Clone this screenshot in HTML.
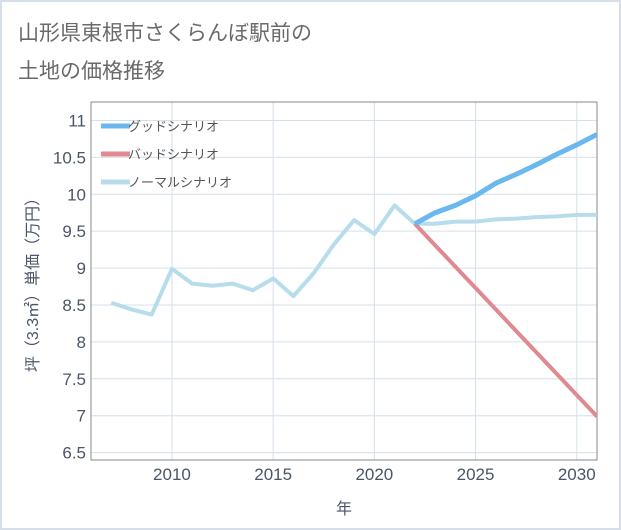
<!DOCTYPE html>
<html><head><meta charset="utf-8"><style>
body{margin:0;background:#fff;}
#wrap{position:relative;width:621px;height:530px;overflow:hidden;}
svg text{font-family:"Liberation Sans","Noto Sans CJK JP",sans-serif;}
</style></head><body>
<div id="wrap">
<svg id="chart" width="621" height="530">
<rect x="1" y="1" width="619" height="528" fill="#fff" stroke="#d6dfe8" stroke-width="2"/>
<text x="18" y="40" font-size="21" fill="#6a6a6a">山形県東根市さくらんぼ駅前の</text>
<text x="18" y="78" font-size="21" fill="#6a6a6a">土地の価格推移</text>
<g id="grid"></g>
<g id="axes"></g>
<g id="series"></g>
<g id="legend"></g>
</svg>
</div>
<script>
const years=[2007,2008,2009,2010,2011,2012,2013,2014,2015,2016,2017,2018,2019,2020,2021,2022,2023,2024,2025,2026,2027,2028,2029,2030,2031];
const normalValues=[8.53,8.44,8.37,8.99,8.79,8.76,8.79,8.70,8.86,8.62,8.93,9.32,9.65,9.46,9.85,9.60,9.60,9.63,9.63,9.66,9.67,9.69,9.70,9.72,9.72];
const goodYears=[2022,2023,2024,2025,2026,2027,2028,2029,2030,2031];
const goodValues=[9.60,9.75,9.85,9.98,10.15,10.27,10.40,10.54,10.67,10.81];
const badYears=[2022,2023,2024,2025,2026,2027,2028,2029,2030,2031];
const badValues=[9.60,9.31,9.02,8.73,8.44,8.15,7.86,7.57,7.28,6.99];
const yTicks=[6.5,7,7.5,8,8.5,9,9.5,10,10.5,11];
const xTicks=[2010,2015,2020,2025,2030];
const seriesNames=["グッドシナリオ","バッドシナリオ","ノーマルシナリオ"];
const seriesColors=["#6bb8ee","#de8a90","#b7dcec"];

const L=91,R=597,T=102,B=460;
const X0=2006,X1=2031,Y0=6.4,Y1=11.25;
const x=v=>L+(v-X0)/(X1-X0)*(R-L);
const y=v=>B-(v-Y0)/(Y1-Y0)*(B-T);
const NS="http://www.w3.org/2000/svg";
function mk(tag,attrs,parent){const e=document.createElementNS(NS,tag);for(const k in attrs)e.setAttribute(k,attrs[k]);parent.appendChild(e);return e;}
const grid=document.getElementById('grid'),axes=document.getElementById('axes'),ser=document.getElementById('series'),leg=document.getElementById('legend');
const TC="#4a5668";
for(const t of yTicks){
  const l=mk('line',{x1:L,x2:R,y1:y(t),y2:y(t),stroke:"#d5e0ea","stroke-width":1},grid);
  
  
  const tx=mk('text',{x:L-5,y:y(t)+6,"text-anchor":"end","font-size":17,fill:TC},axes);
  tx.textContent=t;
  
  
}
for(const t of xTicks){
  const l=mk('line',{x1:x(t),x2:x(t),y1:T,y2:B,stroke:"#d5e0ea","stroke-width":1},grid);
  
  
  const tx=mk('text',{x:x(t),y:B+20,"text-anchor":"middle","font-size":17,fill:TC},axes);
  tx.textContent=t;
  
  
}
const frame=mk('rect',{x:L,y:T,width:R-L,height:B-T,fill:"none",stroke:"#888","stroke-width":1},axes);


const xt=mk('text',{x:(L+R)/2,y:514,"text-anchor":"middle","font-size":16,fill:TC},axes);
xt.textContent="年";


const yt=mk('text',{x:0,y:0,"text-anchor":"middle","font-size":16,fill:TC,transform:`translate(38,${(T+B)/2}) rotate(-90)`},axes);
yt.textContent="坪（3.3㎡）単価（万円）";



function pts(xs,vs){return xs.map((v,i)=>x(v)+","+y(vs[i])).join(" ");}
const clip=mk('clipPath',{id:"pc"},ser);
mk('rect',{x:L,y:T,width:R-L,height:B-T},clip);
const pn=mk('polyline',{points:pts(years,normalValues),fill:"none",stroke:seriesColors[2],"stroke-width":4,"stroke-linejoin":"round","clip-path":"url(#pc)"},ser);


const pb=mk('polyline',{points:pts(badYears,badValues),fill:"none",stroke:seriesColors[1],"stroke-width":4,"stroke-linejoin":"round","clip-path":"url(#pc)"},ser);


const pg=mk('polyline',{points:pts(goodYears,goodValues),fill:"none",stroke:seriesColors[0],"stroke-width":5,"stroke-linejoin":"round","clip-path":"url(#pc)"},ser);



seriesNames.forEach((n,i)=>{
  const yy=126+i*28;
  const g=mk('g',{},leg);
  
  
  mk('line',{x1:101,x2:130,y1:yy,y2:yy,stroke:seriesColors[i],"stroke-width":5},g);
  const t=mk('text',{x:128,y:yy+5,"font-size":13,fill:"#555"},g);
  t.textContent=n;
});
</script>
</body></html>
